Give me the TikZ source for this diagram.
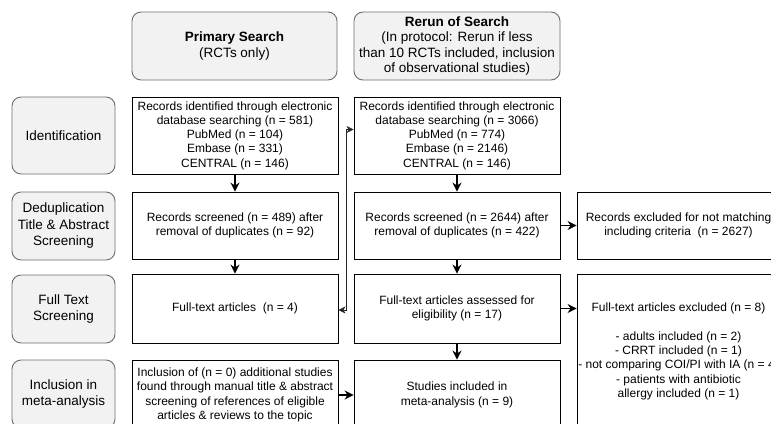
\documentclass[tikz,border=0pt]{standalone}
\usepackage{fontspec}
\setmainfont{Liberation Sans}
\usetikzlibrary{arrows.meta,calc}
\definecolor{lblfill}{RGB}{242,242,242}
\definecolor{lbldraw}{RGB}{110,110,110}
\begin{document}
\begin{tikzpicture}[x=1pt,y=-1pt,
  box/.style={draw=black,line width=0.9pt,fill=white,align=center,inner sep=2pt,
    font=\fontsize{12}{14.3}\selectfont},
  lbl/.style={draw=lbldraw,line width=0.9pt,fill=lblfill,rounded corners=9pt,align=center,
    minimum width=103pt,minimum height=68pt,inner sep=2pt,
    font=\fontsize{13.5}{16.5}\selectfont},
  ttl/.style={draw=lbldraw,line width=0.9pt,fill=lblfill,rounded corners=9pt,align=center,
    minimum height=68pt,inner sep=2pt,
    font=\fontsize{13.5}{15.5}\selectfont},
  arr/.style={-{Stealth[length=9pt,width=9pt,inset=3pt]},line width=1.1pt},
  dbl/.style={{Stealth[length=7pt,width=7pt,inset=2pt]}-{Stealth[length=7pt,width=7pt,inset=2pt]},line width=0.8pt,draw=black!85}
]
\useasboundingbox (0,0) rectangle (771,423);

% titles
\node[ttl,minimum width=205pt] (t1) at (234.5,46) {\textbf{Primary Search}\\(RCTs only)};
\node[ttl,minimum width=206pt] (t2) at (457,46) {\textbf{Rerun of Search}\\(In protocol: Rerun if less\\than 10 RCTs included, inclusion\\of observational studies)};

% row labels
\node[lbl,minimum height=77pt] (l1) at (63.5,135.5) {Identification};
\node[lbl] (l2) at (63.5,226) {Deduplication\\Title \& Abstract\\Screening};
\node[lbl] (l3) at (63.5,309) {Full Text\\Screening};
\node[lbl] (l4) at (63.5,394) {Inclusion in\\meta-analysis};

% primary column
\node[box,minimum width=206pt,minimum height=77pt] (pid) at (235,135.5) {Records identified through electronic\\database searching (n = 581)\\PubMed (n = 104)\\Embase (n = 331)\\CENTRAL (n = 146)};
\node[box,minimum width=206pt,minimum height=67pt] (pdd) at (235,225.5) {Records screened (n = 489) after\\removal of duplicates (n = 92)};
\node[box,minimum width=206pt,minimum height=69pt] (pft) at (235,308.5) {Full-text articles\ \ (n = 4)};
\node[box,minimum width=206pt,minimum height=70pt] (pin) at (235,395) {Inclusion of (n = 0) additional studies\\found through manual title \& abstract\\screening of references of eligible\\articles \& reviews to the topic};

% rerun column
\node[box,minimum width=206pt,minimum height=77pt] (rid) at (457,135.5) {Records identified through electronic\\database searching (n = 3066)\\PubMed (n = 774)\\Embase (n = 2146)\\CENTRAL (n = 146)};
\node[box,minimum width=206pt,minimum height=67pt] (rdd) at (457,225.5) {Records screened (n = 2644) after\\removal of duplicates (n = 422)};
\node[box,minimum width=206pt,minimum height=69pt] (rft) at (457,308.5) {Full-text articles assessed for\\eligibility (n = 17)};
\node[box,minimum width=206pt,minimum height=70pt] (rin) at (457,395) {Studies included in\\meta-analysis (n = 9)};

% exclusion column
\node[box,minimum width=203pt,minimum height=67pt] (ex1) at (678.5,225.5) {Records excluded for not matching\\including criteria\ \ (n = 2627)};
\node[box,minimum width=203pt,minimum height=155pt] (ex2) at (678.5,351.5) {};
\node[align=center,inner sep=0pt,font=\fontsize{12}{14.3}\selectfont] (ex2t) at (ex2.center) {Full-text articles excluded (n = 8)\\[14.3pt]- adults included (n = 2)\\- CRRT included (n = 1)\\- not comparing COI/PI with IA (n = 4)\\- patients with antibiotic\\allergy included (n = 1)};

% arrows
\draw[arr] (pid) -- (pdd);
\draw[arr] (pdd) -- (pft);
\draw[arr] (pin) -- (rin);
\draw[arr] (rid) -- (rdd);
\draw[arr] (rdd) -- (rft);
\draw[arr] (rft) -- (rin);
\draw[arr] (rdd) -- (ex1);
\draw[arr] (rft.east) -- (rft.east -| ex2.west);
\draw[dbl] ($(pft.east)+(0,1.5)$) -- ++(8,0) |- ($(rid.west)+(0,-6)$);
\end{tikzpicture}
\end{document}
